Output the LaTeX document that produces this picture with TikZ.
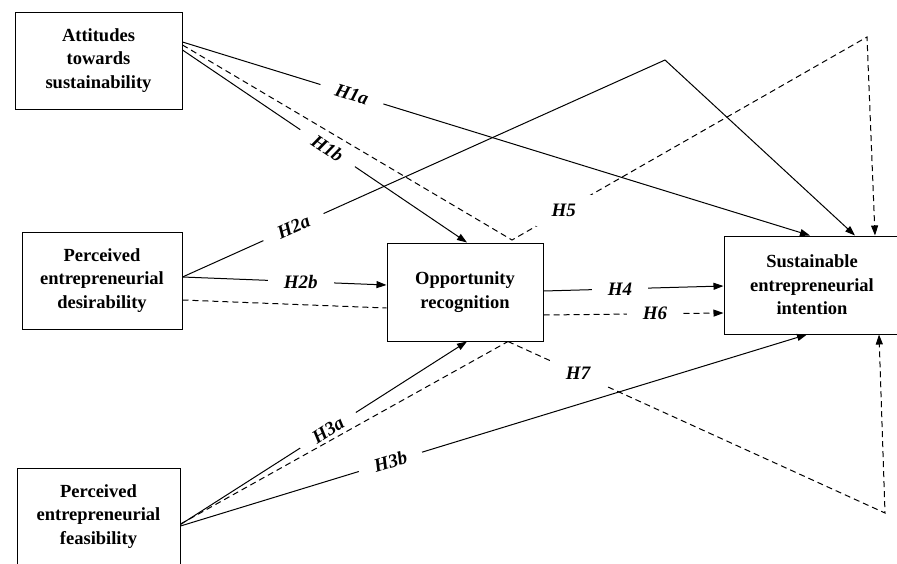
\documentclass[tikz,border=0pt]{standalone}
\usepackage{fontspec}
\setmainfont{Liberation Serif}
\usetikzlibrary{arrows.meta,calc}
\begin{document}
\begin{tikzpicture}[x=1pt,y=-1pt,
  box/.style={draw, line width=1pt, align=center, inner sep=0pt,
    font=\fontsize{18.5}{23.5}\selectfont\bfseries},
  conn/.style={line width=1pt},
  arr/.style={-{Triangle[length=10pt,width=7pt]}},
  dsh/.style={dash pattern=on 6pt off 4pt},
  labh/.style={font=\fontsize{19}{19}\selectfont\bfseries\itshape, fill=white,
    inner xsep=16pt, inner ysep=2pt},
  lab/.style={labh, sloped},
  labw/.style={labh, inner ysep=9pt}
]
\path[use as bounding box] (0,0) rectangle (897,563);
\clip (0,0) rectangle (897,563);

% boxes
\node[box, minimum width=167pt, minimum height=97pt] (att) at (98.5,60.5) {Attitudes\\towards\\sustainability};
\node[box, minimum width=160pt, minimum height=97pt] (des) at (102,280.5) {Perceived\\entrepreneurial\\desirability};
\node[box, minimum width=163pt, minimum height=97pt] (fea) at (98.5,516.5) {Perceived\\entrepreneurial\\feasibility};
\node[box, minimum width=156pt, minimum height=98pt] (opp) at (465,292) {Opportunity\\recognition};
\node[box, minimum width=176pt, minimum height=98pt] (sei) at (812,285) {Sustainable\\entrepreneurial\\intention};

% bend points
\coordinate (c2a) at (665,60);
\coordinate (c5a) at (512,240);
\coordinate (c5b) at (867,37);
\coordinate (c7) at (885,513);

% solid connectors
\draw[conn,arr] ($(att.east)+(0,-18.5)$) -- node[lab,pos=0.27]{H1a} ($(sei.north)+(-2,0)$);
\draw[conn,arr] ($(att.east)+(0,-10.5)$) -- node[lab,pos=0.51]{H1b} ($(opp.north)+(2,0)$);
\draw[conn,arr] ($(des.east)+(0,-3.5)$) -- node[lab,pos=0.23]{H2a} (c2a) -- ($(sei.north)+(43,0)$);
\draw[conn,arr] ($(des.east)+(0,-3.5)$) -- node[labh,pos=0.58]{H2b} ($(opp.west)+(0,-7)$);
\draw[conn,arr] ($(opp.east)+(0,-1)$) -- node[labh,pos=0.425]{H4} ($(sei.west)+(0,1)$);
\draw[conn,arr] ($(fea.east)+(0,8)$) -- node[lab,pos=0.515]{H3a} ($(opp.south)+(2,0)$);
\draw[conn,arr] ($(fea.east)+(0,9.5)$) -- node[lab,pos=0.335]{H3b} ($(sei.south)+(-5,0)$);

% dashed connectors
\draw[conn,dsh,arr] ($(att.east)+(0,-15.5)$) -- (c5a) -- node[labw,pos=0.146]{H5} (c5b) -- ($(sei.north)+(63,0)$);
\draw[conn,dsh] ($(des.east)+(0,19.5)$) -- ($(opp.west)+(0,16)$);
\draw[conn,dsh,arr] ($(opp.east)+(0,23)$) -- node[labh,pos=0.62]{H6} ($(sei.west)+(0,28)$);
\draw[conn,dsh] ($(fea.east)+(0,7.5)$) -- ($(opp.south)+(43,0)$);
\draw[conn,dsh,arr] ($(opp.south)+(43,0)$) -- node[labw,pos=0.186]{H7} (c7) -- ($(sei.south)+(67,0)$);
\end{tikzpicture}
\end{document}
